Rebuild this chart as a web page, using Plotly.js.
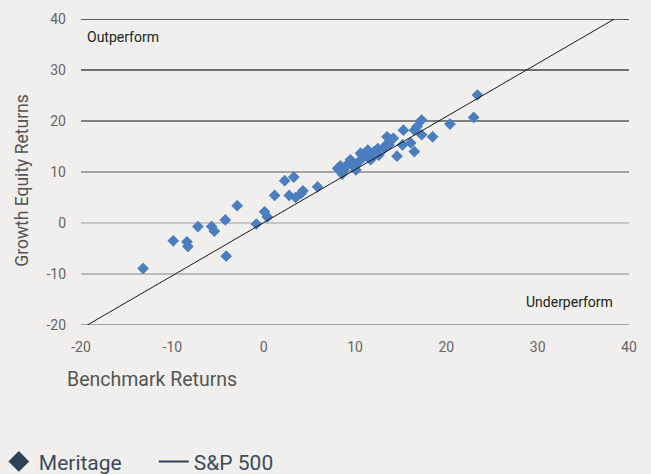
<!DOCTYPE html>
<html>
<head>
<meta charset="utf-8">
<script src="https://cdn.plot.ly/plotly-3.0.1.min.js"></script>
<style>
  html, body { margin: 0; padding: 0; background: #f0efed; }
  #chart { width: 651px; height: 474px; }
</style>
</head>
<body>
<div id="chart"></div>
<script>
// ---- Data ----
const meritageX = [-13.2, -9.9, -8.4, -8.3, -7.2, -5.7, -5.4, -4.2, -4.1, -2.9,
  -0.8, 0.1, 0.4, 1.2, 2.3, 3.3, 2.8, 3.5, 4.1, 4.3,
  5.9, 8.1, 8.4, 8.8, 8.6, 9.3, 9.5, 9.9, 10.1, 10.4,
  10.6, 10.8, 11.0, 11.4, 11.4, 11.7, 11.9, 12.1, 12.5, 12.6,
  13.2, 13.4, 13.5, 13.7, 13.9, 14.2, 14.6, 15.2, 15.3, 16.1,
  16.5, 16.5, 16.8, 17.3, 17.3, 18.5, 20.4, 23.0, 23.4];
const meritageY = [-8.9, -3.5, -3.7, -4.6, -0.7, -0.7, -1.6, 0.6, -6.5, 3.4,
  -0.2, 2.2, 1.2, 5.4, 8.3, 9.0, 5.4, 5.0, 5.8, 6.3,
  7.1, 10.7, 11.2, 10.4, 9.6, 11.7, 12.4, 11.0, 10.4, 12.0,
  13.7, 13.3, 13.0, 13.7, 14.3, 12.4, 12.8, 14.0, 14.6, 13.3,
  14.6, 15.3, 16.9, 15.3, 16.3, 16.6, 13.1, 15.3, 18.2, 15.7,
  14.0, 18.2, 18.9, 20.2, 17.3, 16.9, 19.4, 20.7, 25.1];
const sp500X = [-19.3, 38.4];
const sp500Y = [-20, 40];
const xTicks = [-20, -10, 0, 10, 20, 30, 40];
const yTicks = [-20, -10, 0, 10, 20, 30, 40];
const seriesNames = ['Meritage', 'S&P 500'];

// ---- Styles ----
const bg = '#f0efed';
const gridColors = {'-20': '#8c8c8c', '-10': '#a8a8a8', '0': '#b8b8b8', '10': '#8a8a8a', '20': '#5a5a5a', '30': '#444444', '40': '#2a2a2a'};

const traces = [
  { x: meritageX, y: meritageY, type: 'scatter', mode: 'markers', showlegend: false,
    marker: { symbol: 'diamond', size: 9, color: '#4a7ebf', line: {width: 0} }, hoverinfo: 'x+y' },
  { x: sp500X, y: sp500Y, type: 'scatter', mode: 'lines', showlegend: false,
    line: { color: '#1a1a1a', width: 1 } },
  // legend entries
  { x: [null], y: [null], type: 'scatter', mode: 'markers', name: seriesNames[0],
    marker: { symbol: 'diamond', size: 16, color: '#2e4256' } },
  { x: [null], y: [null], type: 'scatter', mode: 'lines', name: seriesNames[1],
    line: { color: '#2e4256', width: 2 } }
];

const shapes = yTicks.map(v => ({
  type: 'line', xref: 'paper', x0: 0, x1: 1, yref: 'y', y0: v, y1: v,
  line: { color: gridColors[String(v)], width: 1.5 }, layer: 'below'
}));

const layout = {
  width: 651, height: 474,
  paper_bgcolor: bg, plot_bgcolor: bg,
  margin: { l: 81, r: 22, t: 19, b: 149, autoexpand: false },
  font: { family: 'Roboto, sans-serif', color: '#666' },
  xaxis: {
    range: [-20, 40], tickvals: xTicks, ticktext: xTicks.map(String),
    showgrid: false, zeroline: false, showline: false, ticks: '', automargin: false,
    tickfont: { size: 14, color: '#666' }, ticklabelstandoff: 12
  },
  yaxis: {
    range: [-20, 40], tickvals: yTicks, ticktext: yTicks.map(String),
    showgrid: false, zeroline: false, showline: false, ticks: '', automargin: false,
    tickfont: { size: 14, color: '#666' }, ticklabelstandoff: 14
  },
  shapes: shapes,
  showlegend: true,
  legend: {
    orientation: 'h', x: -0.15, xanchor: 'left', y: -0.38, yanchor: 'top',
    font: { size: 21, color: '#3b4b5b' }, bgcolor: 'rgba(0,0,0,0)',
    entrywidth: 110, entrywidthmode: 'pixels'
  },
  annotations: [
    { text: 'Outperform', xref: 'paper', yref: 'paper', x: 0.008, y: 0.941,
      xanchor: 'left', yanchor: 'middle', showarrow: false, font: { size: 14, color: '#222' } },
    { text: 'Underperform', xref: 'paper', yref: 'paper', x: 0.974, y: 0.075,
      xanchor: 'right', yanchor: 'middle', showarrow: false, font: { size: 14, color: '#222' } },
    { text: 'Benchmark Returns', xref: 'paper', yref: 'paper', x: -0.03, y: -0.178,
      xanchor: 'left', yanchor: 'middle', showarrow: false, font: { size: 19.5, color: '#555' } },
    { text: 'Growth Equity Returns', xref: 'paper', yref: 'paper', x: -0.108, y: 0.474,
      xanchor: 'center', yanchor: 'middle', textangle: -90, showarrow: false, font: { size: 17.5, color: '#555' } }
  ]
};

Plotly.newPlot('chart', traces, layout, { displayModeBar: false, staticPlot: true });
</script>
</body>
</html>
